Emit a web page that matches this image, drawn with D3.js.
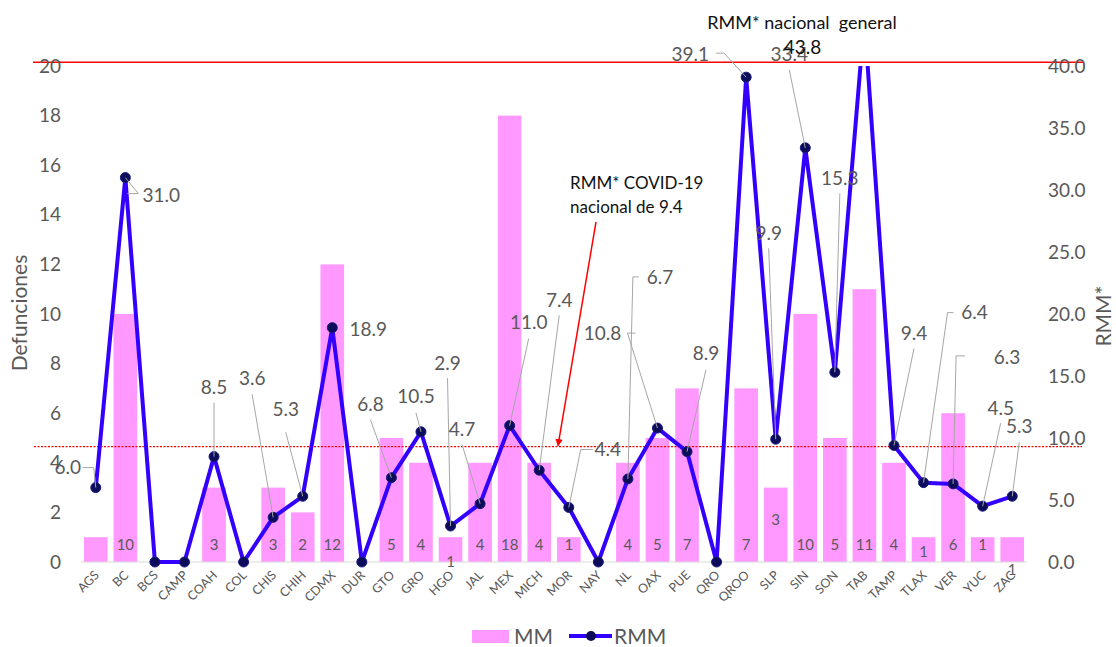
<!DOCTYPE html>
<html lang="es">
<head>
<meta charset="utf-8">
<title>MM y RMM por entidad</title>
<script src="https://cdn.jsdelivr.net/npm/d3@7"></script>
<style>
  body { margin: 0; background: #fff; }
  svg { font-family: Lato, "Open Sans", sans-serif; }
  .tick-label { fill: #595959; font-size: 19px; }
  .cat-label { fill: #595959; font-size: 12.5px; }
  .data-label { fill: #595959; font-size: 19px; }
  .bar-label { fill: #595959; font-size: 15px; }
  .axis-title { fill: #595959; font-size: 21px; }
  .note { fill: #111; font-size: 17px; white-space: pre; }
  .leader { stroke: #a6a6a6; stroke-width: 1; fill: none; }
</style>
</head>
<body>
<script>
// data
var states = ["AGS","BC","BCS","CAMP","COAH","COL","CHIS","CHIH","CDMX","DUR","GTO","GRO","HGO","JAL","MEX","MICH","MOR","NAY","NL","OAX","PUE","QRO","QROO","SLP","SIN","SON","TAB","TAMP","TLAX","VER","YUC","ZAC"];
var mm = [1,10,0,0,3,0,3,2,12,0,5,4,1,4,18,4,1,0,4,5,7,0,7,3,10,5,11,4,1,6,1,1];
var rmm = [6.0,31.0,0,0,8.5,0,3.6,5.3,18.9,0,6.8,10.5,2.9,4.7,11.0,7.4,4.4,0,6.7,10.8,8.9,0,39.1,9.9,33.4,15.3,43.8,9.4,6.4,6.3,4.5,5.3];
var leftTicks = [0,2,4,6,8,10,12,14,16,18,20];
var rightTicks = [0,5,10,15,20,25,30,35,40];
var rmmCovid = 9.3;      // dotted reference line
var rmmGeneral = 40.3;   // solid reference line

// label layout (offsets from the point: text centre, then leader bends)
var labelPos = {
  AGS: {t:[-28,-20], l:[[-13,-20],[-2,-20]]},
  BC: {t:[36,18], l:[[2,16],[13,16]]},
  COAH: {t:[0,-69], l:[[0,-54]]},
  CHIS: {t:[-21,-139], l:[[-21,-123]]},
  CHIH: {t:[-17,-87], l:[[-17,-64]]},
  CDMX: {t:[36,2], l:[]},
  GTO: {t:[-21,-73], l:[[-21,-58]]},
  GRO: {t:[-5,-35], l:[[-5,-19]]},
  HGO: {t:[-3,-163], l:[[-3,-148]]},
  JAL: {t:[-18,-74], l:[[-18,-59]]},
  MEX: {t:[19,-103], l:[[19,-87]]},
  MICH: {t:[20,-170], l:[[20,-155]]},
  MOR: {t:[39,-58], l:[[24,-58],[12,-58]]},
  NL: {t:[32,-202], l:[[11,-202],[5,-202]]},
  OAX: {t:[-55,-95], l:[[-22,-95],[-30,-95]]},
  PUE: {t:[19,-98], l:[[19,-82]]},
  QROO: {t:[-56,-23], l:[[-30,-24],[-22,-24]]},
  SLP: {t:[-7,-206], l:[[-7,-191]]},
  SIN: {t:[-16,-93], l:[[-16,-78]]},
  SON: {t:[5,-194], l:[[5,-179]]},
  TAB: {t:[-62,28], l:[], dark:true},
  TAMP: {t:[20,-112], l:[[20,-97]]},
  TLAX: {t:[51,-170], l:[[30,-170],[24,-170]]},
  VER: {t:[54,-127], l:[[12,-128],[3,-128]]},
  YUC: {t:[18,-98], l:[[18,-83]]},
  ZAC: {t:[7,-70], l:[[7,-54]]}
};
// bar labels: special vertical spots, AGS has none
var barLabelY = {HGO: 562, SLP: 520, TLAX: 552, ZAC: 570};
var noBarLabel = ["AGS"];

var W = 1116, H = 647;
var svg = d3.select("body").append("svg").attr("width", W).attr("height", H);

var x = d3.scaleBand().domain(states).range([81, 1027]).paddingInner(0.2).paddingOuter(0.1);
var yL = d3.scaleLinear().domain([0, 20]).range([562, 66]);
var yR = d3.scaleLinear().domain([0, 40]).range([562, 66]);
var cx = function(s) { return x(s) + x.bandwidth() / 2; };

// bars
svg.append("g").selectAll("rect")
  .data(states)
  .enter().append("rect")
  .attr("x", function(d) { return x(d); })
  .attr("width", x.bandwidth())
  .attr("y", function(d, i) { return yL(mm[i]); })
  .attr("height", function(d, i) { return yL(0) - yL(mm[i]); })
  .attr("fill", "#ff99ff");

// bottom axis line
svg.append("line")
  .attr("x1", x.range()[0]).attr("x2", x.range()[1])
  .attr("y1", yL(0)).attr("y2", yL(0))
  .attr("stroke", "#d9d9d9").attr("stroke-width", 1);

// reference lines
svg.append("line")
  .attr("x1", 33).attr("x2", 1083)
  .attr("y1", yR(rmmGeneral)).attr("y2", yR(rmmGeneral))
  .attr("stroke", "#ff0000").attr("stroke-width", 1.5);
svg.append("line")
  .attr("x1", 34).attr("x2", 1082)
  .attr("y1", yR(rmmCovid)).attr("y2", yR(rmmCovid))
  .attr("stroke", "#ff0000").attr("stroke-width", 1.3)
  .attr("stroke-dasharray", "2,1.5");

// left ticks
svg.append("g").selectAll("text")
  .data(leftTicks).enter().append("text")
  .attr("class", "tick-label")
  .attr("x", 61).attr("y", function(d) { return yL(d); })
  .attr("dy", "0.35em").attr("text-anchor", "end")
  .text(function(d) { return d; });

// right ticks
svg.append("g").selectAll("text")
  .data(rightTicks).enter().append("text")
  .attr("class", "tick-label")
  .attr("x", 1048).attr("y", function(d) { return yR(d); })
  .attr("dy", "0.35em").attr("text-anchor", "start")
  .text(function(d) { return d3.format(".1f")(d); });

// category labels
svg.append("g").selectAll("text")
  .data(states).enter().append("text")
  .attr("class", "cat-label")
  .attr("text-anchor", "end")
  .attr("transform", function(d) { return "translate(" + (cx(d) + 4) + ",576) rotate(-45)"; })
  .text(function(d) { return d; });

// axis titles
svg.append("text").attr("class", "axis-title")
  .attr("transform", "translate(27,313) rotate(-90)")
  .attr("text-anchor", "middle").text("Defunciones");
svg.append("text").attr("class", "axis-title")
  .attr("transform", "translate(1111,316) rotate(-90)")
  .attr("text-anchor", "middle").text("RMM*");

// bar value labels
svg.append("g").selectAll("text")
  .data(states.filter(function(d, i) { return mm[i] > 0 && noBarLabel.indexOf(d) < 0; }))
  .enter().append("text")
  .attr("class", "bar-label")
  .attr("x", function(d) { return cx(d); })
  .attr("y", function(d) { return barLabelY[d] || 545; })
  .attr("dy", "0.35em").attr("text-anchor", "middle")
  .text(function(d) { return mm[states.indexOf(d)]; });

// line (clipped at top of plot)
svg.append("clipPath").attr("id", "plotclip")
  .append("rect").attr("x", 0).attr("y", yR(40)).attr("width", W).attr("height", H);

var line = d3.line()
  .x(function(d) { return cx(d); })
  .y(function(d, i) { return yR(rmm[i]); });

var lg = svg.append("g").attr("clip-path", "url(#plotclip)");
lg.append("path")
  .datum(states)
  .attr("d", line)
  .attr("fill", "none")
  .attr("stroke", "#3300ff")
  .attr("stroke-width", 4)
  .attr("stroke-linejoin", "round");

// leaders
var lab = svg.append("g");
states.forEach(function(s, i) {
  var p = labelPos[s];
  if (!p) return;
  var px = cx(s), py = yR(rmm[i]);
  if (p.l.length) {
    var pts = p.l.map(function(o) { return [px + o[0], py + o[1]]; });
    pts.push([px, py]);
    lab.append("path").attr("class", "leader").attr("d", d3.line()(pts));
  }
});

lg.selectAll("circle")
  .data(states).enter().append("circle")
  .attr("cx", function(d) { return cx(d); })
  .attr("cy", function(d, i) { return yR(rmm[i]); })
  .attr("r", 5)
  .attr("fill", "#0c0c5a")
  .attr("stroke", "#1a1a80").attr("stroke-width", 1);

// data labels
states.forEach(function(s, i) {
  var p = labelPos[s];
  if (!p) return;
  lab.append("text")
    .attr("class", "data-label")
    .attr("x", cx(s) + p.t[0])
    .attr("y", yR(rmm[i]) + p.t[1])
    .attr("dy", "0.35em").attr("text-anchor", "middle")
    .style("fill", p.dark ? "#111" : null)
    .text(d3.format(".1f")(rmm[i]));
});

// annotations
svg.append("text").attr("class", "note")
  .attr("x", 802).attr("y", 23).attr("dy", "0.35em").attr("text-anchor", "middle")
  .style("font-size", "18px")
  .text("RMM* nacional  general");
svg.append("text").attr("class", "note")
  .attr("x", 570).attr("y", 183).attr("dy", "0.35em").text("RMM* COVID-19");
svg.append("text").attr("class", "note")
  .attr("x", 570).attr("y", 207).attr("dy", "0.35em").text("nacional de 9.4");

svg.append("defs").append("marker")
  .attr("id", "arrow").attr("viewBox", "0 0 10 10")
  .attr("refX", 9).attr("refY", 5)
  .attr("markerWidth", 5).attr("markerHeight", 5)
  .attr("orient", "auto")
  .append("path").attr("d", "M0,0L10,5L0,10z").attr("fill", "#ff0000");
svg.append("line")
  .attr("x1", 596).attr("y1", 222)
  .attr("x2", 558).attr("y2", yR(rmmCovid) - 1)
  .attr("stroke", "#ff0000").attr("stroke-width", 1.5)
  .attr("marker-end", "url(#arrow)");

// legend
var leg = svg.append("g");
leg.append("rect").attr("x", 472).attr("y", 630).attr("width", 37).attr("height", 13).attr("fill", "#ff99ff");
leg.append("text").attr("class", "axis-title").attr("x", 514).attr("y", 637).attr("dy", "0.35em").text("MM");
leg.append("line").attr("x1", 569).attr("x2", 612).attr("y1", 636).attr("y2", 636)
  .attr("stroke", "#3300ff").attr("stroke-width", 4);
leg.append("circle").attr("cx", 591).attr("cy", 636).attr("r", 5).attr("fill", "#0c0c5a");
leg.append("text").attr("class", "axis-title").attr("x", 614).attr("y", 637).attr("dy", "0.35em").text("RMM");
</script>
</body>
</html>
